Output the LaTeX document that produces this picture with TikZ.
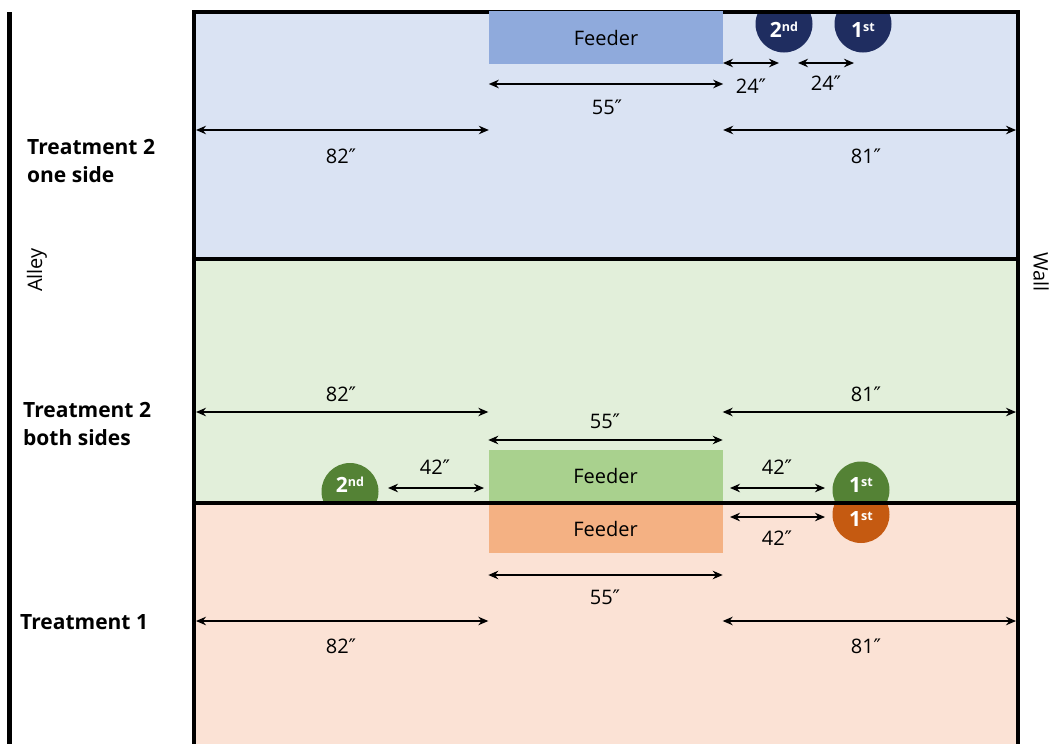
\documentclass[tikz,border=0pt]{standalone}
\usepackage{fontspec}
\setmainfont{Open Sans}
\newfontfamily\primefont{DejaVu Sans}
\newcommand\dq{{\primefont ″}}
\usetikzlibrary{arrows.meta}
\definecolor{bluebg}{HTML}{DAE3F3}
\definecolor{greenbg}{HTML}{E2EFDA}
\definecolor{peachbg}{HTML}{FBE2D5}
\definecolor{bluefeed}{HTML}{8FAADC}
\definecolor{greenfeed}{HTML}{A9D18E}
\definecolor{orangefeed}{HTML}{F4B183}
\definecolor{navyball}{HTML}{1F2D60}
\definecolor{greenball}{HTML}{548235}
\definecolor{rustball}{HTML}{C55A11}
\newcommand\ordn[2]{#1\raisebox{0.5ex}{\fontsize{12.5}{12}\selectfont #2}}
\tikzset{
  dim/.style={{Stealth[length=10pt,width=8.5pt]}-{Stealth[length=10pt,width=8.5pt]}, line width=1.4pt},
  lbl/.style={font=\fontsize{20}{24}\selectfont, inner sep=0},
  feederbox/.style={rectangle, minimum width=234pt, inner sep=0, font=\fontsize{20}{24}\selectfont},
  ball/.style={circle, minimum size=57pt, inner sep=0},
  balltext/.style={text=white, inner sep=0, font=\bfseries\fontsize{21}{22}\selectfont},
  wallline/.style={line width=4.5pt},
  treat/.style={anchor=west, align=left, inner sep=0, font=\bfseries\fontsize{21}{28}\selectfont},
}
\begin{document}
\begin{tikzpicture}[x=1pt,y=-1pt]
\useasboundingbox (0,0) rectangle (1052,744);
% regions
\fill[bluebg] (194,12) rectangle (1018,259);
\fill[greenbg] (194,259) rectangle (1018,503);
\fill[peachbg] (194,503) rectangle (1018,750);
% balls, clipped to their regions
\begin{scope}
  \clip (194,12) rectangle (1018,259);
  \node[ball, fill=navyball] (b2top) at (784,24) {};
  \node[ball, fill=navyball] (b1top) at (863,24) {};
\end{scope}
\begin{scope}
  \clip (194,259) rectangle (1018,503);
  \node[ball, fill=greenball] (b2mid) at (350,491.5) {};
  \node[ball, fill=greenball] (b1mid) at (861,490) {};
\end{scope}
\begin{scope}
  \clip (194,503) rectangle (1018,750);
  \node[ball, fill=rustball] (b1bot) at (861,514.5) {};
\end{scope}
% feeders below dividers
\node[feederbox, fill=greenfeed, minimum height=51pt] (fM) at (605.5,475.5) {Feeder};
\node[feederbox, fill=orangefeed, minimum height=48pt] (fB) at (605.5,529) {Feeder};
% walls
\draw[wallline] (194,744) -- (194,12) -- (1018,12) -- (1018,744);
\draw[wallline] (194,259) -- (1018,259);
\draw[wallline] (194,503) -- (1018,503);
\draw[wallline] (9.5,12) -- (9.5,744);
% top feeder over the wall
\node[feederbox, fill=bluefeed, minimum height=53pt] (fT) at (606,37.5) {Feeder};
% ball texts
\node[balltext] (t2top) at (784,30) {\ordn{2}{nd}};
\node[balltext] (t1top) at (863,30) {\ordn{1}{st}};
\node[balltext] (t2mid) at (350,485) {\ordn{2}{nd}};
\node[balltext] (t1mid) at (861,485) {\ordn{1}{st}};
\node[balltext] (t1bot) at (861,519) {\ordn{1}{st}};
% reference coordinates
\coordinate (lb) at (196,0);
\coordinate (rb) at (1016,0);
% top section dimensions
\draw[dim] (fT.west |- 0,84) -- (fT.east |- 0,84);
\node[lbl] (d55a) at (607,107) {55\dq};
\coordinate (g1) at (723,63);
\coordinate (g2) at (779,63);
\coordinate (g3) at (798,63);
\coordinate (g4) at (854,63);
\draw[dim] (g1) -- (g2);
\draw[dim] (g3) -- (g4);
\node[lbl] (d24a) at (751,86) {24\dq};
\node[lbl] (d24b) at (826,83) {24\dq};
\draw[dim] (lb |- 0,130) -- (fT.west |- 0,130);
\draw[dim] (fT.east |- 0,130) -- (rb |- 0,130);
\node[lbl] (d82a) at (341,156) {82\dq};
\node[lbl] (d81a) at (866,156) {81\dq};
% middle section dimensions
\draw[dim] (lb |- 0,412) -- (fM.west |- 0,412);
\draw[dim] (fM.east |- 0,412) -- (rb |- 0,412);
\node[lbl] (d82b) at (341,394) {82\dq};
\node[lbl] (d81b) at (866,394) {81\dq};
\draw[dim] (fM.west |- 0,440) -- (fM.east |- 0,440);
\node[lbl] (d55b) at (605,421) {55\dq};
\coordinate (m1) at (388,488);
\coordinate (m2) at (484,488);
\coordinate (m3) at (730,488);
\coordinate (m4) at (825,488);
\draw[dim] (m1) -- (m2);
\draw[dim] (m3) -- (m4);
\node[lbl] (d42a) at (435,467) {42\dq};
\node[lbl] (d42b) at (777,467) {42\dq};
% bottom section dimensions
\coordinate (o1) at (730,517);
\coordinate (o2) at (825,517);
\draw[dim] (o1) -- (o2);
\node[lbl] (d42c) at (777,538) {42\dq};
\draw[dim] (fB.west |- 0,575) -- (fB.east |- 0,575);
\node[lbl] (d55c) at (605,597) {55\dq};
\draw[dim] (lb |- 0,621) -- (fB.west |- 0,621);
\draw[dim] (fB.east |- 0,621) -- (rb |- 0,621);
\node[lbl] (d82c) at (341,646) {82\dq};
\node[lbl] (d81c) at (866,646) {81\dq};
% side labels
\node[treat] (tr2a) at (27,161) {Treatment 2\\one side};
\node[treat] (tr2b) at (23,424) {Treatment 2\\both sides};
\node[treat] (tr1) at (20,622) {Treatment 1};
\node[lbl, rotate=90] (alley) at (37,270) {Alley};
\node[lbl, rotate=-90] (wall) at (1041,272) {Wall};
\end{tikzpicture}
\end{document}
